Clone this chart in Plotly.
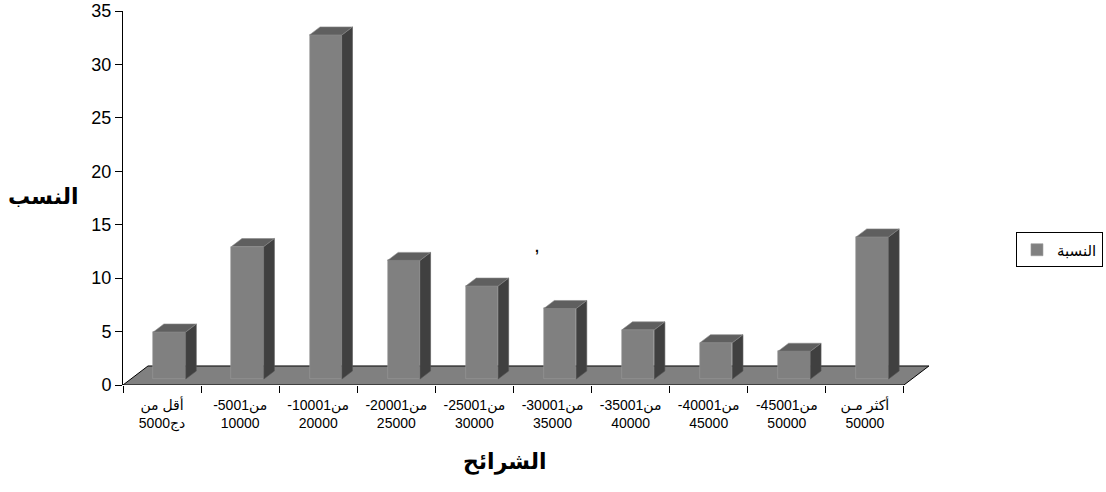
import plotly.graph_objects as go

# Income brackets (two-line tick labels) and their share in percent
brackets = [
    "أقل من<br>دج5000",
    "-5001من<br>10000",
    "-10001من<br>20000",
    "-20001من<br>25000",
    "-25001من<br>30000",
    "-30001من<br>35000",
    "-35001من<br>40000",
    "-40001من<br>45000",
    "-45001من<br>50000",
    "أكثر مـن<br>50000",
]
shares = [4.4, 12.4, 32.2, 11.1, 8.7, 6.6, 4.6, 3.4, 2.6, 13.3]
y_ticks = [0, 5, 10, 15, 20, 25, 30, 35]
series_name = "النسبة"

# pseudo-3D geometry (x in category units, y in value units)
n = len(shares)
centers = list(range(n))
floor_dx, floor_dy = 0.32, 1.78      # depth of the floor
bar_shift = 0.096                     # bar front face sits a bit into the floor
bar_w = 0.415
bar_base = 0.56
depth_dx, depth_dy = 0.135, 0.75     # depth of each column

FRONT = "#808080"
TOP = "#5f5f5f"
SIDE = "#404040"
FONT = "Arial, Liberation Sans, DejaVu Sans"

fig = go.Figure()

# front faces of the columns
fig.add_trace(go.Bar(
    x=[c + bar_shift for c in centers], y=shares, base=bar_base,
    width=bar_w, name=series_name,
    marker=dict(color=FRONT, line=dict(color="#9a9a9a", width=0.6)),
    hoverinfo="skip",
))

# side and top faces of each column
for c, v in zip(centers, shares):
    xl = c + bar_shift - bar_w / 2
    xr = c + bar_shift + bar_w / 2
    top = bar_base + v
    fig.add_trace(go.Scatter(
        x=[xr, xr, xr + depth_dx, xr + depth_dx, xr],
        y=[bar_base, top, top + depth_dy, bar_base + depth_dy, bar_base],
        fill="toself", fillcolor=SIDE, mode="lines",
        line=dict(color="#555555", width=0.6),
        showlegend=False, hoverinfo="skip", xaxis="x2",
    ))
    fig.add_trace(go.Scatter(
        x=[xl, xr, xr + depth_dx, xl + depth_dx, xl],
        y=[top, top, top + depth_dy, top + depth_dy, top],
        fill="toself", fillcolor=TOP, mode="lines",
        line=dict(color="#8a8a8a", width=0.6),
        showlegend=False, hoverinfo="skip", xaxis="x2",
    ))

# floor of the chart
x0, x1 = -0.5, n - 0.5
floor_path = (f"M {x0},0 L {x1},0 L {x1 + floor_dx},{floor_dy} "
              f"L {x0 + floor_dx},{floor_dy} Z")
fig.add_shape(type="path", path=floor_path, xref="x", yref="y",
              fillcolor=FRONT, line=dict(color="black", width=1),
              layer="below")

x_range = [-0.5, 10.0]
boundaries = [b - 0.5 for b in range(n + 1)]

fig.update_layout(
    width=1106, height=492,
    margin=dict(l=123, r=163, t=11, b=107, autoexpand=False),
    paper_bgcolor="white", plot_bgcolor="white",
    font=dict(family=FONT, color="black"),
    bargap=0,
    xaxis=dict(
        range=x_range, tickmode="array", tickvals=boundaries,
        showticklabels=False, ticks="outside", ticklen=7,
        tickcolor="black", showline=False, showgrid=False,
        zeroline=False, fixedrange=True, automargin=False,
    ),
    xaxis2=dict(
        range=x_range, matches="x", overlaying="x", anchor="y",
        side="bottom", tickmode="array", tickvals=centers,
        ticktext=brackets, ticks="", showline=False, showgrid=False,
        zeroline=False, ticklabelstandoff=10, automargin=False,
        tickfont=dict(size=14, family=FONT, color="black"),
    ),
    yaxis=dict(
        range=[0, 35], tickmode="array", tickvals=y_ticks,
        ticks="outside", ticklen=7, tickcolor="black",
        showline=True, linecolor="black", linewidth=1,
        showgrid=False, zeroline=False, automargin=False,
        tickfont=dict(size=18, family=FONT, color="black"),
    ),
    legend=dict(
        x=1.089, y=0.361, xanchor="left", yanchor="middle",
        bordercolor="black", borderwidth=1, bgcolor="white",
        font=dict(size=15, family=FONT, color="black"),
    ),
    showlegend=True,
)

# axis titles
fig.add_annotation(
    text="<b>النسب</b>", xref="paper", yref="paper",
    x=-0.098, y=0.504, xanchor="center", yanchor="middle",
    showarrow=False, font=dict(size=22, family=FONT, color="black"),
)
fig.add_annotation(
    text="<b>الشرائح</b>", xref="paper", yref="paper",
    x=0.466, y=-0.205, xanchor="center", yanchor="middle",
    showarrow=False, font=dict(size=22, family=FONT, color="black"),
)
fig.add_annotation(
    text="<b>,</b>", xref="paper", yref="paper",
    x=0.505, y=0.37, xanchor="center", yanchor="middle",
    showarrow=False, font=dict(size=14, family=FONT, color="black"),
)

fig.write_html("out.html")
